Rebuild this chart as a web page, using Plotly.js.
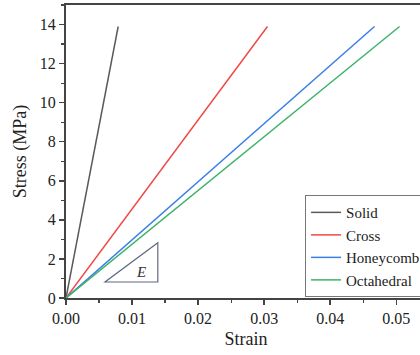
<!DOCTYPE html>
<html><head><meta charset="utf-8">
<script src="https://cdn.plot.ly/plotly-3.0.1.min.js"></script>
<style>html,body{margin:0;padding:0;overflow:hidden;background:#fff}#c{width:432px;height:355px}</style>
</head><body><div id="c"></div>
<script>
const seriesNames = ["Solid", "Cross", "Honeycomb", "Octahedral"];
const strainSolid = [0, 0.0079];
const stressSolid = [0, 13.9];
const strainCross = [0, 0.0305];
const stressCross = [0, 13.9];
const strainHoney = [0, 0.0467];
const stressHoney = [0, 13.9];
const strainOcta = [0, 0.0505];
const stressOcta = [0, 13.9];
const colors = ["#5a5a5a", "#f04848", "#3a7ee8", "#3db36a"];
const xTicks = [0, 0.01, 0.02, 0.03, 0.04, 0.05];
const xTickLabels = ["0.00", "0.01", "0.02", "0.03", "0.04", "0.05"];
const yTicks = [0, 2, 4, 6, 8, 10, 12, 14];
const triX = [0.0059, 0.0139, 0.0139];
const triY = [0.82, 0.82, 2.83];

const xs = [strainSolid, strainCross, strainHoney, strainOcta];
const ys = [stressSolid, stressCross, stressHoney, stressOcta];
const traces = seriesNames.map((n, i) => ({
  x: xs[i], y: ys[i], name: n, type: "scatter", mode: "lines",
  line: {color: colors[i], width: 1.5}
}));
const fam = "Liberation Serif, Times New Roman, serif";
const layout = {
  width: 432, height: 355,
  margin: {l: 66, r: 6, t: 5, b: 57},
  paper_bgcolor: "#fff", plot_bgcolor: "#fff",
  showlegend: true,
  font: {family: fam, color: "#222"},
  xaxis: {
    range: [0, 0.0545], tickvals: xTicks, ticktext: xTickLabels,
    ticks: "outside", ticklen: 5, tickwidth: 1.5, tickcolor: "#444",
    minor: {dtick: 0.005, tick0: 0, ticks: "outside", ticklen: 3, tickwidth: 1.2, tickcolor: "#444"},
    showline: true, linewidth: 2, linecolor: "#444", mirror: true,
    showgrid: false, zeroline: false,
    tickfont: {size: 16, family: fam, color: "#222"},
    title: {text: "Strain", font: {size: 18, family: fam, color: "#222"}, standoff: 6}
  },
  yaxis: {
    range: [0, 15], tickvals: yTicks,
    ticks: "outside", ticklen: 5, tickwidth: 1.5, tickcolor: "#444",
    minor: {dtick: 1, tick0: 0, ticks: "outside", ticklen: 3, tickwidth: 1.2, tickcolor: "#444"},
    showline: true, linewidth: 2, linecolor: "#444", mirror: true,
    showgrid: false, zeroline: false,
    tickfont: {size: 16, family: fam, color: "#222"},
    title: {text: "Stress (MPa)", font: {size: 18, family: fam, color: "#222"}, standoff: 8}
  },
  legend: {
    x: 0.664, y: 0.003, xanchor: "left", yanchor: "bottom",
    bgcolor: "#fff", bordercolor: "#777", borderwidth: 1,
    font: {size: 15, family: fam, color: "#222"},
    tracegroupgap: 0, itemwidth: 30
  },
  shapes: [{
    type: "path", xref: "x", yref: "y",
    path: `M ${triX[0]} ${triY[0]} L ${triX[1]} ${triY[1]} L ${triX[2]} ${triY[2]} Z`,
    line: {color: "#5d6a80", width: 1.2}, fillcolor: "rgba(0,0,0,0)"
  }],
  annotations: [{
    x: 0.0113, y: 1.35, xref: "x", yref: "y", text: "<i>E</i>", showarrow: false,
    font: {size: 15, family: fam, color: "#333"}
  }]
};
Plotly.newPlot("c", traces, layout, {displayModeBar: false, staticPlot: true});
</script></body></html>
